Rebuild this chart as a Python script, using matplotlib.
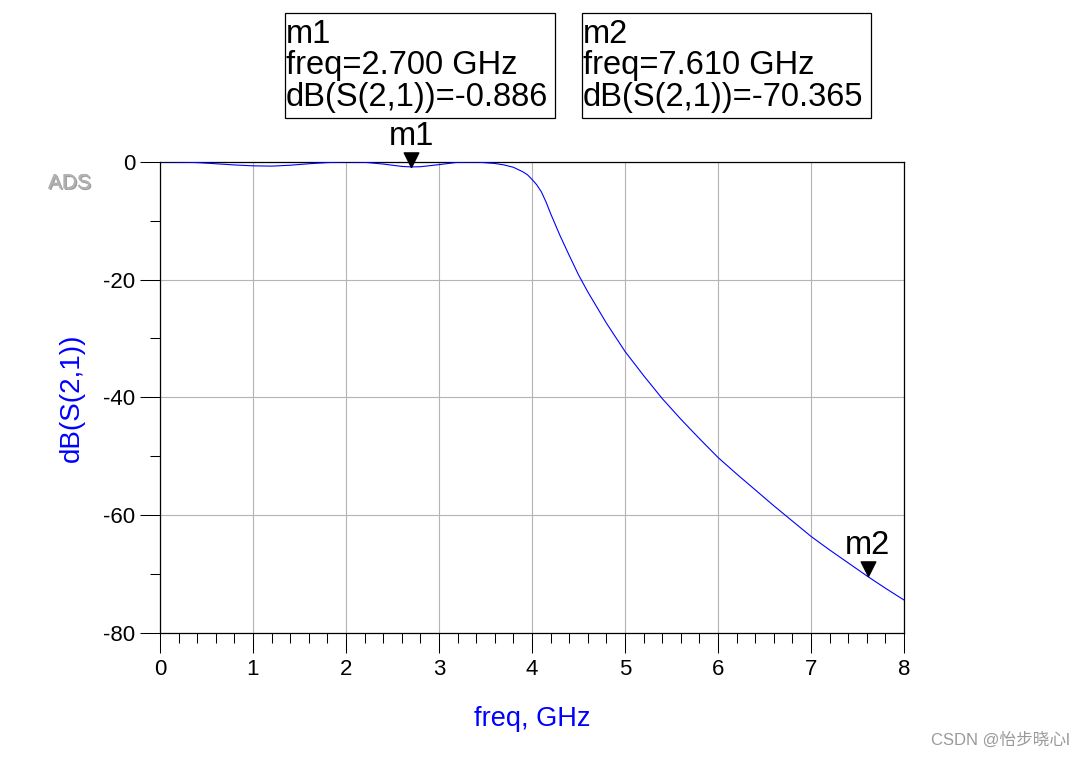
import matplotlib
matplotlib.use('Agg')
import matplotlib.pyplot as plt
import matplotlib.patheffects as pe
from matplotlib.patches import Rectangle
from matplotlib.path import Path
from matplotlib.ticker import MultipleLocator

plt.rcParams['font.family'] = ['Liberation Sans', 'DejaVu Sans']
plt.rcParams['axes.unicode_minus'] = False

# S21 response
freq = [0.0, 0.2, 0.4, 0.6, 0.8, 1.0, 1.2, 1.4, 1.6, 1.8, 2.0, 2.2, 2.4,
        2.6, 2.7, 2.8, 3.0, 3.2, 3.4, 3.6, 3.7, 3.8, 3.9, 3.95, 4.0, 4.05,
        4.1, 4.15, 4.2, 4.3, 4.4, 4.5, 4.6, 4.8, 5.0, 5.2, 5.4, 5.6, 5.8,
        6.0, 6.2, 6.4, 6.6, 6.8, 7.0, 7.2, 7.4, 7.6, 7.8, 8.0]
s21_db = [0.0, -0.05, -0.15, -0.35, -0.55, -0.7, -0.75, -0.6, -0.35,
          -0.15, -0.02, -0.1, -0.4, -0.8, -0.886, -0.85, -0.5, -0.1,
          -0.05, -0.3, -0.55, -0.95, -1.7, -2.2, -3.0, -3.9, -5.1, -6.8,
          -8.8, -12.5, -15.9, -19.2, -22.1, -27.4, -32.2, -36.3, -40.2,
          -43.7, -47.0, -50.2, -53.0, -55.7, -58.4, -61.0, -63.6, -65.9,
          -68.1, -70.3, -72.4, -74.4]

marker_names = ['m1', 'm2']
marker_freq = [2.7, 7.61]
marker_db = [-0.886, -70.365]

W, H = 1085, 758


def px(x, y):
    """ pixel position -> figure fraction """
    return x / W, 1 - y / H


fig = plt.figure(figsize=(W / 100, H / 100), dpi=100)
x0, y0 = px(160, 633)
x1, y1 = px(904, 161.7)
ax = fig.add_axes([x0, y0, x1 - x0, y1 - y0])

ax.plot(freq, s21_db, color='blue', lw=0.8, zorder=3)

ax.set_xlim(0, 8)
ax.set_ylim(-80, 0)
ax.xaxis.set_major_locator(MultipleLocator(1))
ax.xaxis.set_minor_locator(MultipleLocator(0.2))
ax.yaxis.set_major_locator(MultipleLocator(20))
ax.yaxis.set_minor_locator(MultipleLocator(10))
ax.tick_params(which='both', direction='out', width=0.75, color='black',
               labelsize=16)
ax.tick_params(which='major', length=14.4)
ax.tick_params(which='minor', length=7.2)
ax.tick_params(axis='x', pad=4)
ax.tick_params(axis='y', pad=3.5)
ax.grid(True, which='major', color='#b4b4b4', lw=0.8)
for sp in ax.spines.values():
    sp.set_color('black')
    sp.set_linewidth(0.9)

ax.set_xlabel('freq, GHz', color='blue', fontsize=19.5, labelpad=19)
ax.set_ylabel('dB(S(2,1))', color='blue', fontsize=20, labelpad=13)

# marker triangles with their tip on the curve
tri = Path([(-0.5, 1.0), (0.5, 1.0), (0.0, 0.0), (-0.5, 1.0)],
           [Path.MOVETO, Path.LINETO, Path.LINETO, Path.CLOSEPOLY])
for name, f, v in zip(marker_names, marker_freq, marker_db):
    ax.plot([f], [v], marker=tri, ms=21, color='black', ls='none',
            zorder=5, clip_on=False)
    ax.annotate(name, (f, v), xytext=(0, 11), textcoords='offset points',
                ha='center', va='bottom', fontsize=23.5,
                annotation_clip=False)

# marker readout boxes
boxes = [(285, 555), (582, 871)]
for (bl, br), name, f, v in zip(boxes, marker_names, marker_freq, marker_db):
    rx, ry = px(bl, 118)
    rw = (br - bl) / W
    rh = (118 - 13) / H
    fig.add_artist(Rectangle((rx, ry), rw, rh, transform=fig.transFigure,
                             fill=False, ec='black', lw=0.9))
    tx, ty = px(bl + 1, 19)
    fig.text(tx, ty, f'{name}\nfreq={f:.3f} GHz\ndB(S(2,1))={v:.3f}',
             ha='left', va='top', fontsize=23.5, linespacing=1.02)

# ADS logo
fig.text(*px(48, 183), 'ADS', fontsize=15, color='#b0b0b0', ha='left',
         va='center',
         path_effects=[pe.withSimplePatchShadow(offset=(1, -1),
                                                shadow_rgbFace='#707070',
                                                alpha=0.7),
                       pe.Normal()])

# watermark
fig.text(*px(1070, 740), 'CSDN @怡步晓心l', fontsize=12, color='#9a9a9a',
         ha='right', va='center',
         family=['Liberation Sans', 'Noto Sans CJK SC'])

fig.savefig('out.png', dpi=100)
